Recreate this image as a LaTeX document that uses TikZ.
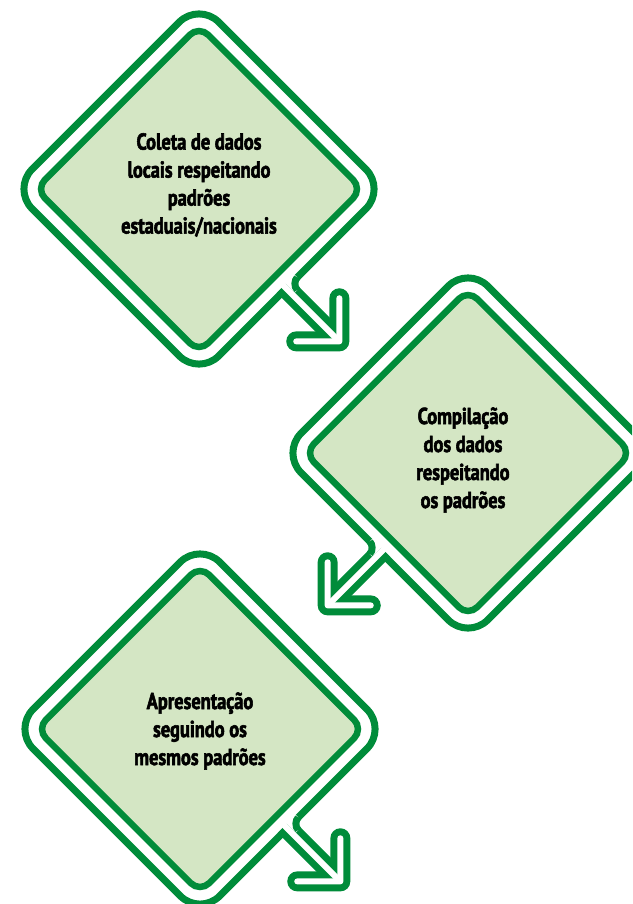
\documentclass[tikz,border=0pt]{standalone}
\usepackage{fontspec}
\newfontfamily\stepfont{PT Sans}[FakeStretch=0.8, UprightFeatures={FakeBold=2.4}, BoldFeatures={FakeBold=2.4}]
\definecolor{leafgreen}{RGB}{0,140,58}
\definecolor{paleleaf}{RGB}{212,230,196}
\begin{document}
\begin{tikzpicture}[x=1pt,y=-1pt,
  rim/.style={draw=leafgreen, line width=7pt},
  core/.style={draw=leafgreen, fill=paleleaf, line width=6.5pt},
  arrowbody/.style={draw=leafgreen, line width=20pt},
  arrowhollow/.style={draw=white, line width=6pt},
  steptext/.style={font=\stepfont\bfseries\fontsize{23}{28}\selectfont, align=center, text=black},
  % local frame of a step: first axis points out of the lower edge, second runs along it
  stepframe/.style={x={(0.7071pt,-0.7071pt)}, y={(0.7071pt,0.7071pt)}},
  stepframeflip/.style={x={(-0.7071pt,-0.7071pt)}, y={(-0.7071pt,0.7071pt)}},
  pics/flowstep/.style={code={
    % outer rim of the rounded square
    \draw[rim, rounded corners=28pt]
      (0,-132) -- (132,-132) -- (132,132) -- (-132,132) -- (-132,-132) -- cycle;
    % hollow arrow leaving the lower edge
    \draw[arrowbody] (128.5,-8.5) -- (207,-8.5);
    \draw[arrowbody, line cap=round, line join=round]
      (176.5,22) -- (207,-8.5) -- (176.5,-39);
    \draw[arrowhollow] (123,-8.5) -- (207,-8.5);
    \draw[arrowhollow, line cap=round, line join=round]
      (176.5,22) -- (207,-8.5) -- (176.5,-39);
    % rounded fillet where the rim turns into the arrow shaft
    \fill[white] (132,7) .. controls (132,2.97) and (136.03,-2) .. (141,-2)
      -- (141,-5.5) -- (127.5,-5.5) -- (127.5,7) -- cycle;
    \draw[draw=leafgreen, line width=7pt]
      (132,7) .. controls (132,2.97) and (136.03,-2) .. (141,-2);
    % inner filled square
    \draw[core, rounded corners=13pt]
      (0,-115.5) -- (115.5,-115.5) -- (115.5,115.5) -- (-115.5,115.5) -- (-115.5,-115.5) -- cycle;
  }}]
\useasboundingbox (0,0) rectangle (632,904);
\clip (0,0) rectangle (632,904);

% first step, arrow to the lower right
\begin{scope}[shift={(199,189)}]
  \pic[stepframe] (stepA) at (0,0) {flowstep};
\end{scope}
% second step, mirrored, arrow to the lower left
\begin{scope}[shift={(468,453)}]
  \pic[stepframeflip] (stepB) at (0,0) {flowstep};
\end{scope}
% third step, arrow to the lower right
\begin{scope}[shift={(200,729)}]
  \pic[stepframe] (stepC) at (0,0) {flowstep};
\end{scope}

\node[steptext] (textA) at (199,185)
  {Coleta de dados\\locais respeitando\\padrões\\estaduais/nacionais};
\node[steptext] (textB) at (463,460)
  {Compilação\\dos dados\\respeitando\\os padrões};
\node[steptext] (textC) at (200,731)
  {Apresentação\\seguindo os\\mesmos padrões};
\end{tikzpicture}
\end{document}
